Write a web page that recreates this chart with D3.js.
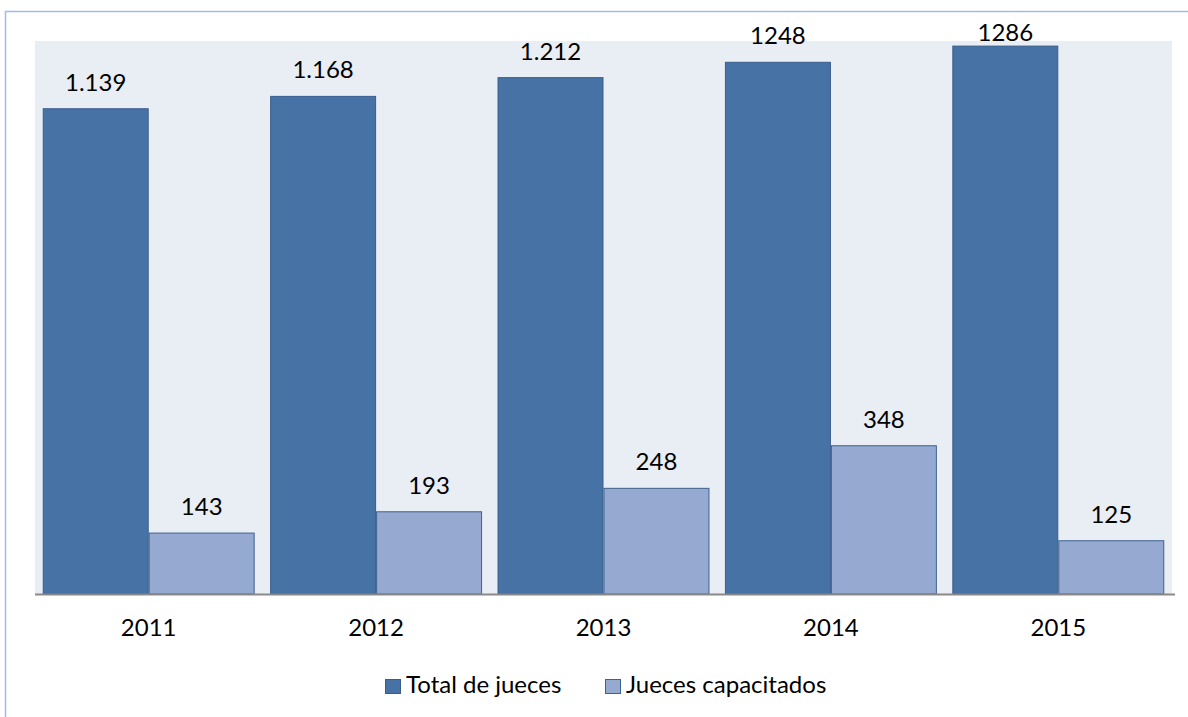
<!DOCTYPE html>
<html>
<head>
<meta charset="utf-8">
<script src="https://cdn.jsdelivr.net/npm/d3@7"></script>
<style>
  html, body { margin: 0; padding: 0; background: #fff; }
  svg { display: block; }
  text { font-family: Lato, "Open Sans", sans-serif; fill: #000; }
</style>
</head>
<body>
<svg id="chart" width="1188" height="717"></svg>
<script>
// Jueces por año
const years = ["2011", "2012", "2013", "2014", "2015"];
const totalJueces = [1139, 1168, 1212, 1248, 1286];
const juecesCapacitados = [143, 193, 248, 348, 125];
const totalLabels = ["1.139", "1.168", "1.212", "1248", "1286"];
const capacitadosLabels = ["143", "193", "248", "348", "125"];
const seriesNames = ["Total de jueces", "Jueces capacitados"];

const colors = {
  total: "#4672A6", totalStroke: "#395E8C",
  cap: "#95A9D1", capStroke: "#3E6290",
  plotBg: "#E9EDF4", frame: "#A3BBE6", axis: "#898989"
};
const fontSize = 24;

const svg = d3.select("#chart");

// outer chart frame
svg.append("rect")
  .attr("x", 5.5).attr("y", 11.5)
  .attr("width", 1200).attr("height", 720)
  .attr("fill", "none").attr("stroke", colors.frame).attr("stroke-width", 1.5);

const plot = { left: 35, right: 1172, top: 41, bottom: 594 };

svg.append("rect")
  .attr("x", plot.left).attr("y", plot.top)
  .attr("width", plot.right - plot.left).attr("height", plot.bottom - plot.top)
  .attr("fill", colors.plotBg);

const x0 = d3.scaleBand().domain(years)
  .range([plot.left, plot.right]).paddingInner(0.068).paddingOuter(0.034);
const x1 = d3.scaleBand().domain(["total", "cap"]).range([0, x0.bandwidth()]);
const y = d3.scaleLinear().domain([0, 1298]).range([plot.bottom, plot.top]);

const rows = years.map((yr, i) => ({
  year: yr,
  bars: [
    { key: "total", v: totalJueces[i], label: totalLabels[i] },
    { key: "cap", v: juecesCapacitados[i], label: capacitadosLabels[i] }
  ]
}));

const groups = svg.append("g").selectAll("g").data(rows).join("g")
  .attr("transform", d => `translate(${x0(d.year)},0)`);

groups.selectAll("rect").data(d => d.bars).join("rect")
  .attr("x", d => x1(d.key) + 0.5)
  .attr("y", d => y(d.v))
  .attr("width", x1.bandwidth() - 1)
  .attr("height", d => y(0) - y(d.v))
  .attr("fill", d => d.key === "total" ? colors.total : colors.cap)
  .attr("stroke", d => d.key === "total" ? colors.totalStroke : colors.capStroke)
  .attr("stroke-width", 1);

groups.selectAll("text.val").data(d => d.bars).join("text")
  .attr("class", "val")
  .attr("x", d => x1(d.key) + x1.bandwidth() / 2)
  .attr("y", d => Math.max(y(d.v) - 18, plot.top))
  .attr("text-anchor", "middle")
  .attr("font-size", fontSize)
  .text(d => d.label);

// category axis
const xAxis = svg.append("g")
  .attr("transform", `translate(0,${plot.bottom})`)
  .call(d3.axisBottom(x0).tickSize(0).tickPadding(0));
xAxis.select(".domain")
  .attr("d", `M${plot.left},0.5H${plot.right + 3}`)
  .attr("stroke", colors.axis).attr("stroke-width", 2);
xAxis.selectAll(".tick text")
  .attr("y", 42).attr("dy", 0)
  .attr("font-size", fontSize)
  .style("font-family", "Lato, 'Open Sans', sans-serif")
  .attr("fill", "#000");

// legend
const legendItems = [
  { name: seriesNames[0], fill: colors.total, stroke: colors.totalStroke, x: 385 },
  { name: seriesNames[1], fill: colors.cap, stroke: colors.capStroke, x: 605 }
];
const legend = svg.append("g").selectAll("g").data(legendItems).join("g")
  .attr("transform", d => `translate(${d.x},679)`);
legend.append("rect")
  .attr("x", 0.5).attr("y", 0.5).attr("width", 15).attr("height", 14)
  .attr("fill", d => d.fill).attr("stroke", d => d.stroke);
legend.append("text")
  .attr("x", 21).attr("y", 14)
  .attr("font-size", fontSize)
  .text(d => d.name);
</script>
</body>
</html>
